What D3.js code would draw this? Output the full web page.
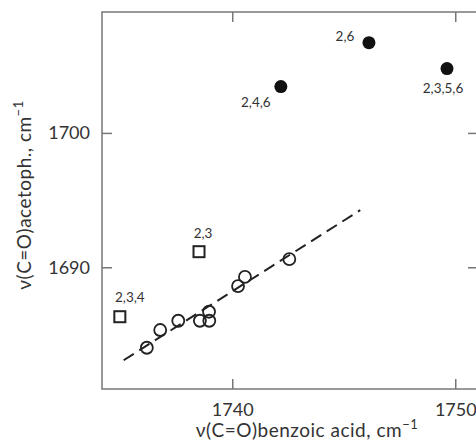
<!DOCTYPE html>
<html><head><meta charset="utf-8">
<script src="https://cdn.jsdelivr.net/npm/d3@7"></script>
<style>body{margin:0;background:#fff}svg{display:block}text{font-family:Lato,"Open Sans",sans-serif;fill:#333}</style>
</head><body><svg id="c" width="476" height="445"></svg>
<script>
const filledX=[1742.18,1746.13,1749.63];
const filledY=[1703.45,1706.72,1704.79];
const filledLabels=["2,4,6","2,6","2,3,5,6"];
const squareX=[1738.51,1734.96];
const squareY=[1691.16,1686.32];
const squareLabels=["2,3","2,3,4"];
const openX=[1736.17,1736.77,1737.58,1738.55,1738.97,1738.96,1740.26,1740.57,1742.56];
const openY=[1684.01,1685.33,1686.02,1686.02,1686.02,1686.69,1688.6,1689.28,1690.6];
const fitX=[1735.13,1745.74];
const fitY=[1683.08,1694.25];
const xTicks=[1740,1750];
const yTicks=[1690,1700];

const svg=d3.select("#c");
const L=102,R=478,T=12,B=389;
const x=d3.scaleLinear().domain([1734.16,1751.02]).range([L,R]);
const y=d3.scaleLinear().domain([1680.94,1709.0]).range([B,T]);
const axisCol="#777";
svg.append("rect").attr("x",L).attr("y",T).attr("width",R-L).attr("height",B-T)
  .attr("fill","none").attr("stroke",axisCol).attr("stroke-width",1.5);
const tl=10;
const gB=svg.append("g").attr("transform",`translate(0,${B})`).call(d3.axisBottom(x).tickValues(xTicks).tickSize(-tl).tickPadding(14).tickFormat(d3.format("d")));
const gT=svg.append("g").attr("transform",`translate(0,${T})`).call(d3.axisTop(x).tickValues(xTicks).tickSize(-tl).tickFormat(""));
const gL=svg.append("g").attr("transform",`translate(${L},0)`).call(d3.axisLeft(y).tickValues(yTicks).tickSize(-tl).tickPadding(12).tickFormat(d3.format("d")));
const gR=svg.append("g").attr("transform",`translate(${R},0)`).call(d3.axisRight(y).tickValues(yTicks).tickSize(-tl).tickFormat(""));
[gB,gT,gL,gR].forEach(g=>{g.select(".domain").remove();g.selectAll(".tick line").attr("stroke",axisCol).attr("stroke-width",1.5);
  g.selectAll(".tick text").attr("font-size",18).attr("fill","#333").style("font-family","Lato,'Open Sans',sans-serif");});
svg.append("line").attr("x1",x(fitX[0])).attr("y1",y(fitY[0])).attr("x2",x(fitX[1])).attr("y2",y(fitY[1]))
  .attr("stroke","#222").attr("stroke-width",2).attr("stroke-dasharray","12,6.5");
svg.selectAll(".o").data(openX).enter().append("circle").attr("cx",d=>x(d)).attr("cy",(d,i)=>y(openY[i]))
  .attr("r",6).attr("fill","none").attr("stroke","#222").attr("stroke-width",1.8);
const s=11;
svg.selectAll(".s").data(squareX).enter().append("rect").attr("x",d=>x(d)-s/2).attr("y",(d,i)=>y(squareY[i])-s/2)
  .attr("width",s).attr("height",s).attr("fill","#fff").attr("stroke","#222").attr("stroke-width",2);
svg.selectAll(".f").data(filledX).enter().append("circle").attr("cx",d=>x(d)).attr("cy",(d,i)=>y(filledY[i]))
  .attr("r",6.5).attr("fill","#111");
const lblOff=[[-25,15.5],[-24,-6.5],[-4,19.5]];
filledLabels.forEach((t,i)=>svg.append("text").attr("x",x(filledX[i])+lblOff[i][0]).attr("y",y(filledY[i])+lblOff[i][1])
  .attr("text-anchor","middle").attr("font-size",13.5).attr("dy","0.35em").text(t));
const sqOff=[[4,-18.5],[10,-19.5]];
squareLabels.forEach((t,i)=>svg.append("text").attr("x",x(squareX[i])+sqOff[i][0]).attr("y",y(squareY[i])+sqOff[i][1])
  .attr("text-anchor","middle").attr("font-size",13.5).attr("dy","0.35em").text(t));
const xt=svg.append("text").attr("x",307).attr("y",437).attr("text-anchor","middle").attr("font-size",19).attr("letter-spacing",0.5);
xt.append("tspan").text("ν(C=O)benzoic acid, cm");
xt.append("tspan").attr("font-size",13).attr("dy","-8").text("−1");
const yt=svg.append("text").attr("transform","translate(31,195) rotate(-90)").attr("text-anchor","middle").attr("font-size",19).attr("letter-spacing",0.5);
yt.append("tspan").text("ν(C=O)acetoph., cm");
yt.append("tspan").attr("font-size",13).attr("dy","-8").text("−1");
</script></body></html>
